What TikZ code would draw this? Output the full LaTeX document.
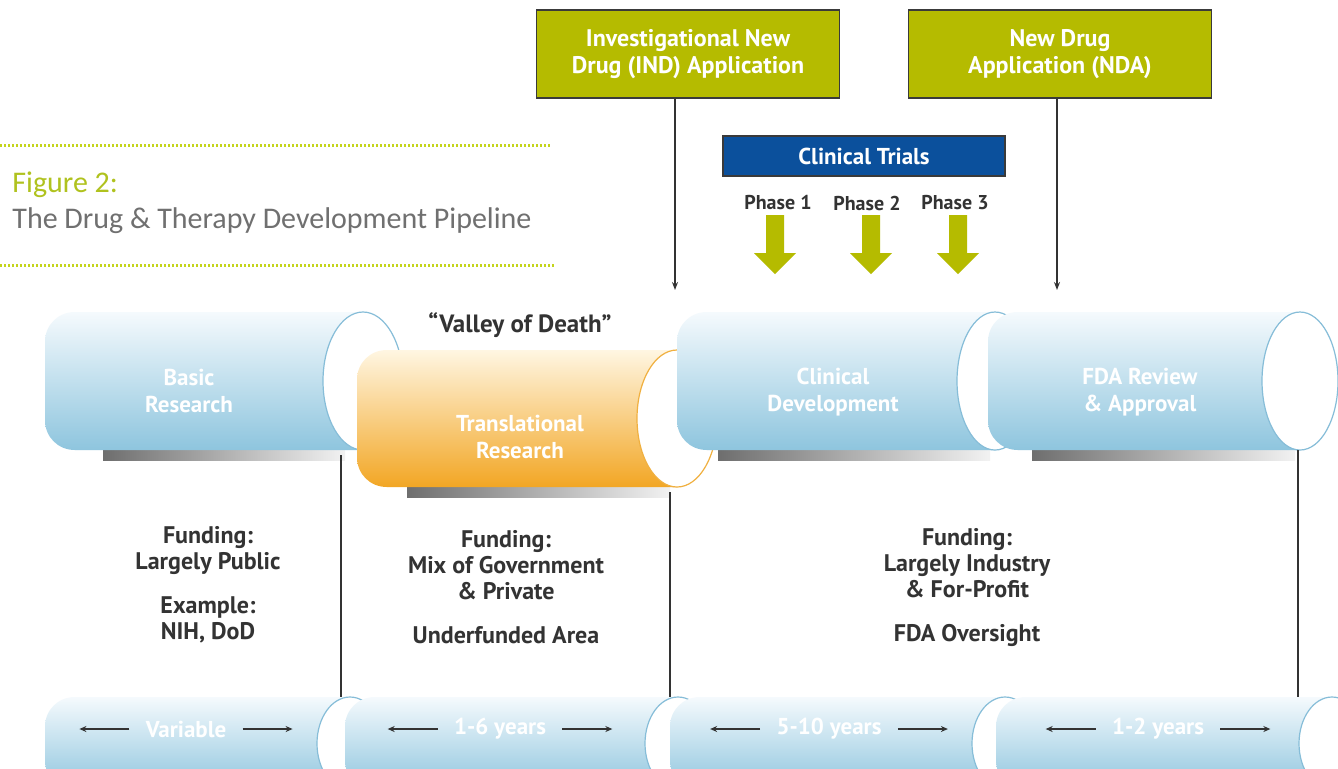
\documentclass[tikz,border=0pt]{standalone}
\usepackage{fontspec}
\setmainfont{PT Sans}
\newfontfamily\titlefnt{Carlito}
\usetikzlibrary{arrows.meta,positioning}

\definecolor{olivebox}{HTML}{B5BB00}
\definecolor{trialblue}{HTML}{0B509C}
\definecolor{boxline}{HTML}{3A3A3A}
\definecolor{textgray}{HTML}{333333}
\definecolor{titlegray}{HTML}{707070}
\definecolor{titlegreen}{HTML}{B0C21E}
\definecolor{dotgreen}{HTML}{C4D41C}
\definecolor{bluetop}{HTML}{F5FAFD}
\definecolor{bluebot}{HTML}{8EC5DE}
\definecolor{bluerim}{HTML}{86BDD8}
\definecolor{orangetop}{HTML}{FFF6E2}
\definecolor{orangebot}{HTML}{F2A624}
\definecolor{orangerim}{HTML}{F0B040}
\definecolor{shadowdark}{HTML}{6E6E6E}
\definecolor{shadowlight}{HTML}{F2F2F2}

\newcommand\boxfnt{\bfseries\fontsize{12}{13.5}\selectfont}
\newcommand\pipefnt{\bfseries\fontsize{11.5}{13.5}\selectfont}
\newcommand\fundfnt{\bfseries\fontsize{12}{13}\selectfont}
\newcommand\phasefnt{\bfseries\fontsize{10}{11}\selectfont}

% pipe: left x, end x, top y, bottom y, end radius, colour
\newcommand\drawpipe[6]{%
  \shade[top color=#6top, bottom color=#6bot] (#2,#3) -- ({#1+30},#3)
    .. controls ({#1+13},#3) and (#1,{#3+13}) .. (#1,{#3+30})
    -- (#1,{#4-30}) .. controls (#1,{#4-13}) and ({#1+13},#4) .. ({#1+30},#4)
    -- (#2,#4) -- cycle;
  \filldraw[fill=white, draw=#6rim, line width=0.6pt] (#2,{(#3+#4)/2})
    ellipse [x radius=#5, y radius={(#4-#3)/2}];
}
% shadow under a pipe: left x, right x, top y, bottom y
\newcommand\drawshadow[4]{%
  \shade[left color=shadowdark, right color=shadowlight] (#1,#3) rectangle (#2,#4);
}

\begin{document}
\begin{tikzpicture}[x=0.5pt, y=-0.5pt,
    olive/.style={draw=boxline, line width=0.9pt, fill=olivebox, text=white,
      font=\boxfnt, align=center, minimum width=151.5pt, minimum height=44pt},
    trials/.style={draw=boxline, line width=0.9pt, fill=trialblue, text=white,
      font=\bfseries\fontsize{11.5}{13}\selectfont, minimum width=141pt, minimum height=20pt},
    phase/.style={text=textgray, font=\phasefnt},
    pipetext/.style={text=white, font=\pipefnt, align=center},
    funding/.style={text=textgray, font=\fundfnt, align=center},
    years/.style={text=white, font=\pipefnt, inner xsep=8pt},
    pointer/.style={-{Stealth[length=4pt,width=3pt]}, draw=textgray, line width=0.7pt},
    span/.style={-{Stealth[length=3.5pt,width=3pt]}, draw=textgray, line width=0.9pt},
    divider/.style={draw=textgray, line width=0.8pt},
    dots/.style={draw=dotgreen, line width=1.5pt, dash pattern=on 1pt off 1pt}]
  \clip (0,0) rectangle (1338,768);
  \fill[white] (0,0) rectangle (1338,768);

  % title
  \draw[dots] (0,145) -- (552,145);
  \node[anchor=base west, inner sep=0pt, text=titlegreen,
    font=\titlefnt\fontsize{15}{17}\selectfont] (fig) at (12,192) {Figure 2:};
  \node[anchor=base west, inner sep=0pt, text=titlegray,
    font=\titlefnt\fontsize{15}{17}\selectfont] (figtitle) at (12,228)
    {The Drug \& Therapy Development Pipeline};
  \draw[dots] (0,265) -- (556,265);

  % applications
  \node[olive] (ind) at (688,54) {Investigational New\\Drug (IND) Application};
  \node[olive] (nda) at (1060,54) {New Drug\\Application (NDA)};
  \coordinate (indtip) at (675,290);
  \coordinate (ndatip) at (1057,290);
  \draw[pointer] (ind.south -| indtip) -- (indtip);
  \draw[pointer] (nda.south -| ndatip) -- (ndatip);

  % clinical trials
  \node[trials] (trials) at (864,156) {Clinical Trials};
  \foreach \n/\x/\ax in {1/778/775, 2/867/871, 3/955/958} {
    \node[phase] (phase\n) at (\x,203) {Phase \n};
    \fill[olivebox] ({\ax-9},215) -- ({\ax+9},215) -- ({\ax+9},253) -- ({\ax+21},253)
      -- (\ax,274) -- ({\ax-21},253) -- ({\ax-9},253) -- cycle;
  }

  % pipeline
  \drawshadow{103}{345}{445}{460}
  \drawshadow{407}{670}{482}{497}
  \drawshadow{718}{990}{445}{460}
  \drawshadow{1032}{1295}{445}{460}
  \drawpipe{45}{363}{312}{450}{40}{blue}
  \drawpipe{357}{677}{350}{487}{40}{orange}
  \drawpipe{677}{995}{312}{450}{38}{blue}
  \drawpipe{988}{1300}{312}{450}{38}{blue}
  \node[pipetext] (basic) at (189,391) {Basic\\Research};
  \node[pipetext] (transl) at (520,437) {Translational\\Research};
  \node[pipetext] (clinical) at (833,392) {Clinical\\Development};
  \node[pipetext] (fda) at (1140,392) {FDA Review\\\& Approval};
  \node[funding, font=\bfseries\fontsize{12.5}{14}\selectfont] (valley) at (520,325)
    {“Valley of Death”};

  % funding
  \node[funding] (fund1) at (208,585) {Funding:\\Largely Public\\[9pt]Example:\\NIH, DoD};
  \node[funding] (fund2) at (506,587) {Funding:\\Mix of Government\\\& Private\\[9pt]Underfunded Area};
  \node[funding] (fund3) at (967,587) {Funding:\\Largely Industry\\\& For-Profit\\[9pt]FDA Oversight};
  \foreach \x/\y in {341/455, 670/492, 1298/450}
    \draw[divider] (\x,\y) -- (\x,700);

  % time spans
  \drawpipe{45}{350}{697}{790}{33}{blue}
  \drawpipe{345}{678}{697}{790}{33}{blue}
  \drawpipe{670}{1005}{697}{790}{33}{blue}
  \drawpipe{996}{1332}{697}{790}{33}{blue}
  \node[years] (var) at (186,729) {Variable};
  \node[years] (short) at (500,729) {1-6 years};
  \node[years] (mid) at (829,729) {5-10 years};
  \node[years] (late) at (1158,729) {1-2 years};
  \foreach \n in {var,short,mid,late} {
    \draw[span] (\n.west) -- ++(-50,0);
    \draw[span] (\n.east) -- ++(50,0);
  }
\end{tikzpicture}
\end{document}
